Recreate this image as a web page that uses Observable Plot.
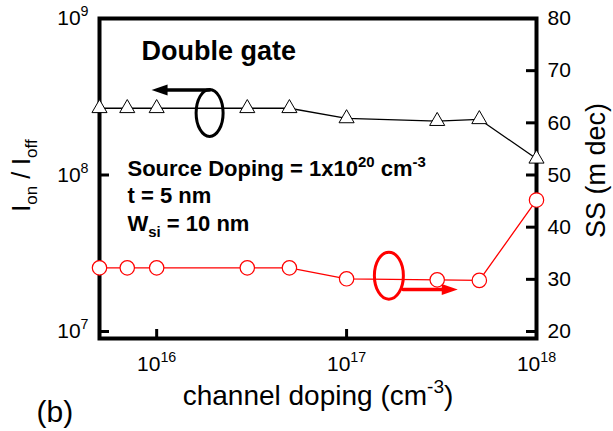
<!DOCTYPE html>
<html><head><meta charset="utf-8">
<script src="https://cdn.jsdelivr.net/npm/d3@7"></script>
<script src="https://cdn.jsdelivr.net/npm/@observablehq/plot@0.6"></script>
<style>
body{margin:0;background:#fff;}
#chart{position:relative;width:613px;height:431px;}
#chart svg{position:absolute;left:0;top:0;}
</style></head><body><div id="chart"></div>
<script>
// ---- data ----
const channelDoping = [5e15, 7e15, 1e16, 3e16, 5e16, 1e17, 3e17, 5e17, 1e18];
const onOffRatio = [2.67e8, 2.67e8, 2.67e8, 2.67e8, 2.67e8, 2.30e8, 2.21e8, 2.27e8, 1.27e8];
const subthresholdSwing = [32.2, 32.2, 32.2, 32.2, 32.2, 30.1, 29.9, 29.8, 45.2];
const xTicks = [1e16, 1e17, 1e18];
const leftTicks = [1e7, 1e8, 1e9];
const rightTicks = [20, 30, 40, 50, 60, 70, 80];
const titleText = "Double gate";
const noteLines = ["Source Doping = 1x10^{20} cm^{-3}", "t = 5 nm", "W_{si} = 10 nm"];
const leftLabel = "I_{on} / I_{off}";
const rightLabel = "SS (m dec)";
const xLabel = "channel doping (cm^{-3})";
const panelLabel = "(b)";

const rows = channelDoping.map((x, i) => ({x, ratio: onOffRatio[i], ss: subthresholdSwing[i]}));

// annotation anchors (data space)
const blackMark = {x: 1.9e16, y: 2.49e8, ax1: 1.9e16, ax2: 9.4e15, ay: 3.49e8};
const redMark = {x: 1.67e17, y: 30.7, ax1: 1.98e17, ax2: 3.85e17, ay: 28.05};

const W = 613, H = 431, mL = 99, mR = 77, mT = 18, mB = 93;
const FW = W - mL - mR, FH = H - mT - mB;
const font = "'Liberation Sans', Arial, Helvetica, sans-serif";
const red = "#ff0000";
const pow = d => `10^{${Math.round(Math.log10(d))}}`;

function ellipse(rx, ry) {
  const k = 0.5523;
  return {draw(c) {
    c.moveTo(rx, 0);
    c.bezierCurveTo(rx, ry * k, rx * k, ry, 0, ry);
    c.bezierCurveTo(-rx * k, ry, -rx, ry * k, -rx, 0);
    c.bezierCurveTo(-rx, -ry * k, -rx * k, -ry, 0, -ry);
    c.bezierCurveTo(rx * k, -ry, rx, -ry * k, rx, 0);
    c.closePath();
  }};
}
function head(dir, len, half) {
  return {draw(c) { c.moveTo(0, 0); c.lineTo(-dir * len, -half); c.lineTo(-dir * len, half); c.closePath(); }};
}

const xScale = {type: "log", domain: [5e15, 1e18]};
const common = {width: W, height: H, marginLeft: mL, marginRight: mR, marginTop: mT, marginBottom: mB,
  style: {fontFamily: font, fontSize: "21px", background: "transparent", overflow: "visible", color: "black"}};
const txt = {text: d => d, lineAnchor: "middle"};

const plot1 = Plot.plot({
  ...common,
  x: xScale,
  y: {type: "log", domain: [1e7, 1e9], range: [331, 18]},
  marks: [
    Plot.frame({stroke: "black", strokeWidth: 4}),
    Plot.tickY(leftTicks, {y: d => d, stroke: "black", strokeWidth: 3, insetRight: FW - 10}),
    Plot.tickX(xTicks, {x: d => d, stroke: "black", strokeWidth: 3, insetTop: FH - 9}),
    Plot.axisY(leftTicks, {tickSize: 0, tickPadding: 11, tickFormat: pow, fontSize: 21, label: null}),
    Plot.axisX(xTicks, {tickSize: 0, tickPadding: 18, tickFormat: pow, fontSize: 21, label: null}),
    Plot.line(rows, {x: "x", y: "ratio", stroke: "black", strokeWidth: 1.3}),
    Plot.dot(rows, {x: "x", y: "ratio", symbol: "triangle", r: 5.6, stroke: "black", fill: "white", strokeWidth: 1}),
    Plot.dot([blackMark], {x: "x", y: "y", symbol: ellipse(13.5, 23.5), fill: "none", stroke: "black", strokeWidth: 3}),
    Plot.arrow([blackMark], {x1: "ax1", y1: "ay", x2: "ax2", y2: "ay", stroke: "black", strokeWidth: 3.5, headLength: 0, insetEnd: 12}),
    Plot.dot([blackMark], {x: "ax2", y: "ay", symbol: head(-1, 16, 5.5), fill: "black", stroke: "none"}),
    Plot.text([titleText], {...txt, frameAnchor: "top-left", dx: 42, dy: 33, textAnchor: "start", fontSize: 27, fontWeight: "bold"}),
    Plot.text([noteLines[0]], {...txt, frameAnchor: "top-left", dx: 28, dy: 150, textAnchor: "start", fontSize: 22, fontWeight: "bold"}),
    Plot.text([noteLines[1]], {...txt, frameAnchor: "top-left", dx: 28, dy: 177, textAnchor: "start", fontSize: 22, fontWeight: "bold"}),
    Plot.text([noteLines[2]], {...txt, frameAnchor: "top-left", dx: 28, dy: 205, textAnchor: "start", fontSize: 22, fontWeight: "bold"}),
    Plot.text([leftLabel], {...txt, frameAnchor: "left", dx: -78, dy: -3, rotate: -90, textAnchor: "middle", fontSize: 25}),
    Plot.text([xLabel], {...txt, frameAnchor: "bottom", dx: 0, dy: 58, textAnchor: "middle", fontSize: 28}),
    Plot.text([panelLabel], {...txt, frameAnchor: "bottom-left", dx: -63, dy: 74, textAnchor: "start", fontSize: 30})
  ]
});

const plot2 = Plot.plot({
  ...common,
  x: {...xScale, axis: null},
  y: {domain: [20, 80], range: [331, 18]},
  marks: [
    Plot.tickY(rightTicks, {y: d => d, stroke: "black", strokeWidth: 3, insetLeft: FW - 10}),
    Plot.axisY(rightTicks, {anchor: "right", tickSize: 0, tickPadding: 11, fontSize: 21, label: null}),
    Plot.line(rows, {x: "x", y: "ss", stroke: red, strokeWidth: 1.3}),
    Plot.dot(rows, {x: "x", y: "ss", r: 7.2, stroke: red, fill: "white", strokeWidth: 1.2}),
    Plot.dot([redMark], {x: "x", y: "y", symbol: ellipse(14.5, 23.5), fill: "none", stroke: red, strokeWidth: 3}),
    Plot.arrow([redMark], {x1: "ax1", y1: "ay", x2: "ax2", y2: "ay", stroke: red, strokeWidth: 3.5, headLength: 0, insetEnd: 12}),
    Plot.dot([redMark], {x: "ax2", y: "ay", symbol: head(1, 16, 5.5), fill: red, stroke: "none"}),
    Plot.text([rightLabel], {...txt, frameAnchor: "right", dx: 60, dy: -8, rotate: -90, textAnchor: "middle", fontSize: 27})
  ]
});

const host = document.getElementById("chart");
host.append(plot1, plot2);

function rich(svg) {
  svg.querySelectorAll("text").forEach(t => {
    const s = t.textContent;
    if (!/[\^_]\{/.test(s)) return;
    const fs = parseFloat(getComputedStyle(t).fontSize);
    while (t.firstChild) t.removeChild(t.firstChild);
    const re = /([\^_])\{([^}]*)\}|([^\^_]+)/g;
    let m;
    while ((m = re.exec(s))) {
      const ts = document.createElementNS("http://www.w3.org/2000/svg", "tspan");
      if (m[1]) {
        ts.textContent = m[2];
        ts.setAttribute("font-size", `${0.68 * fs}px`);
        ts.setAttribute("baseline-shift", m[1] === "^" ? `${0.42 * fs}px` : `${-0.28 * fs}px`);
      } else ts.textContent = m[3];
      t.appendChild(ts);
    }
  });
}
rich(plot1); rich(plot2);
</script></body></html>
